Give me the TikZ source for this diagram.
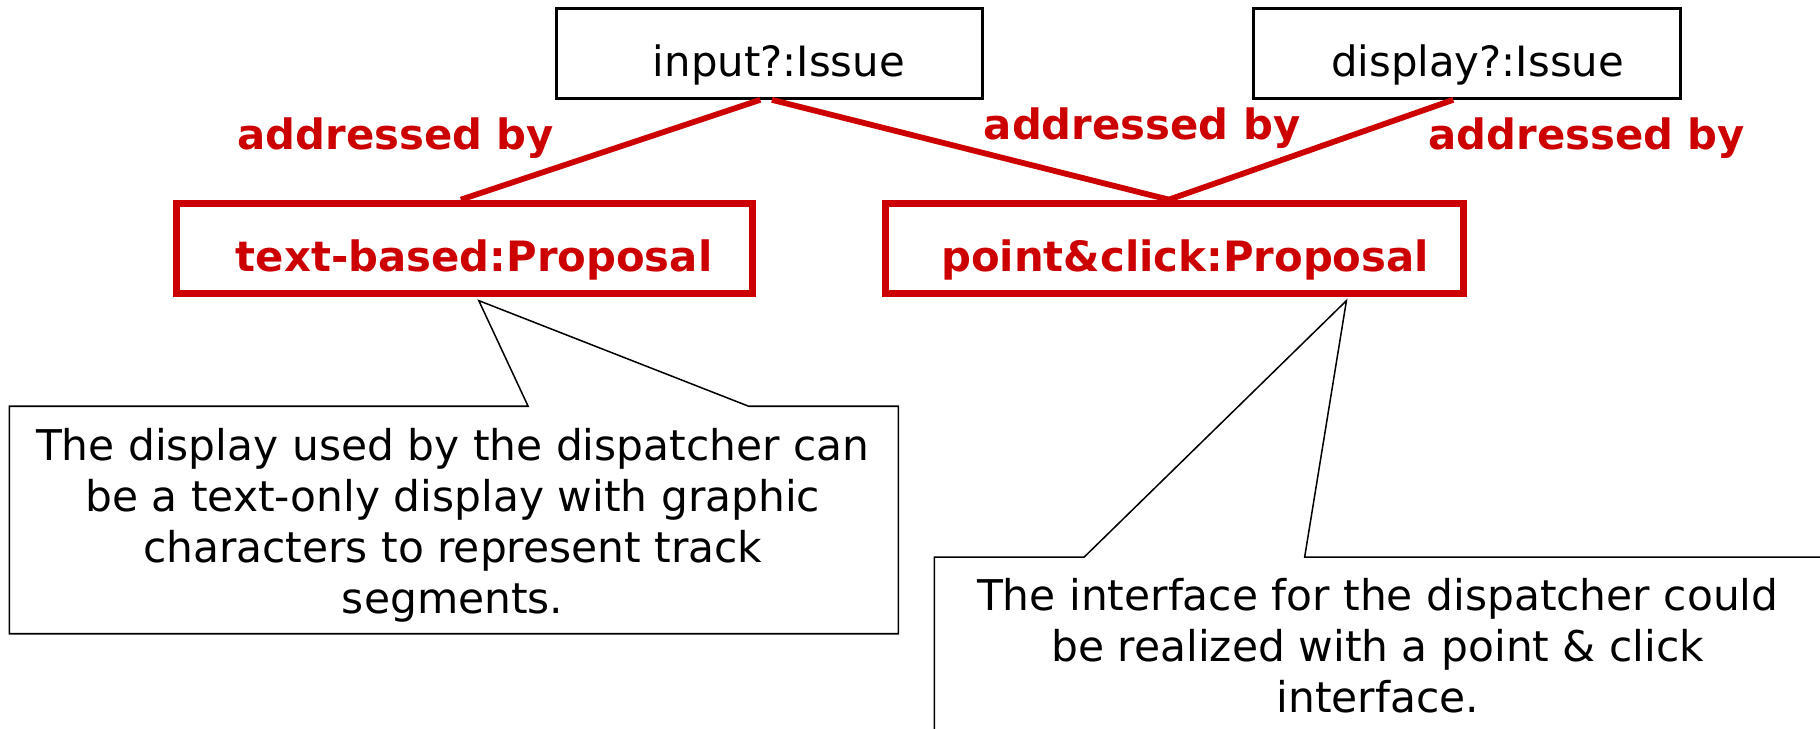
\documentclass[tikz,border=0pt]{standalone}
\usepackage{fontspec}
\setmainfont{DejaVu Sans}
\usetikzlibrary{calc}
\definecolor{ared}{RGB}{204,0,0}
\begin{document}
\begin{tikzpicture}[x=1pt,y=-1pt,
 issuebox/.style={draw=black,line width=2.5pt,minimum width=367.5pt,minimum height=77.5pt,inner sep=0pt,font=\fontsize{36}{43}\selectfont,text height=39pt,text depth=0pt},
 propbox/.style={draw=ared,line width=6pt,minimum width=496pt,minimum height=78pt,inner sep=0pt,text=ared,font=\bfseries\fontsize{36}{43}\selectfont,text height=40pt,text depth=0pt},
 assoc/.style={draw=ared,line width=5pt},
 rolelabel/.style={text=ared,font=\bfseries\fontsize{36}{43}\selectfont,anchor=base,inner sep=0pt},
 calloutline/.style={draw=black,line width=1.3pt,fill=white},
 callouttext/.style={align=center,anchor=north,inner sep=0pt,font=\fontsize{36.5}{44}\selectfont}
]
\path[use as bounding box] (0,0) rectangle (1568,628);
\clip (0,0) rectangle (1568,628);

\node[issuebox] (inp) at (663,46) {\hspace*{16pt}input?:Issue};
\node[issuebox] (dsp) at (1264,46) {\hspace*{18pt}display?:Issue};
\node[propbox] (tb) at (400,214) {\hspace*{17pt}text-based:Proposal};
\node[propbox,minimum width=498pt] (pc) at (1012,214) {\hspace*{18pt}point\&click:Proposal};

\draw[assoc] ($(inp.south)+(-8,0)$) -- ($(tb.north)+(-3,0)$);
\draw[assoc] ($(inp.south)+(2,0)$) -- ($(pc.north)+(-5,0)$);
\draw[assoc] ($(dsp.south)+(-12,0)$) -- ($(pc.north)+(-5,0)$);

\node[rolelabel] (l1) at (341,129) {addressed by};
\node[rolelabel] (l2) at (984,120) {addressed by};
\node[rolelabel] (l3) at (1367,129) {addressed by};

\coordinate (t1) at ($(tb.south)+(12.5,3)$);
\draw[calloutline] (8,350) -- (455,350) -- (t1) -- (645,350) -- (774,350) -- (774,546) -- (8,546) -- cycle;
\node[callouttext] (n1) at (390,368.5) {The display used by the dispatcher can\\be a text-only display with graphic\\characters to represent track\\segments.};

\coordinate (t2) at ($(pc.south)+(148,3)$);
\draw[calloutline] (805,480) -- (934,480) -- (t2) -- (1124,480) -- (1600,480) -- (1600,700) -- (805,700) -- cycle;
\node[callouttext] (n2) at (1187,498) {The interface for the dispatcher could\\be realized with a point \& click\\interface.};
\end{tikzpicture}
\end{document}
